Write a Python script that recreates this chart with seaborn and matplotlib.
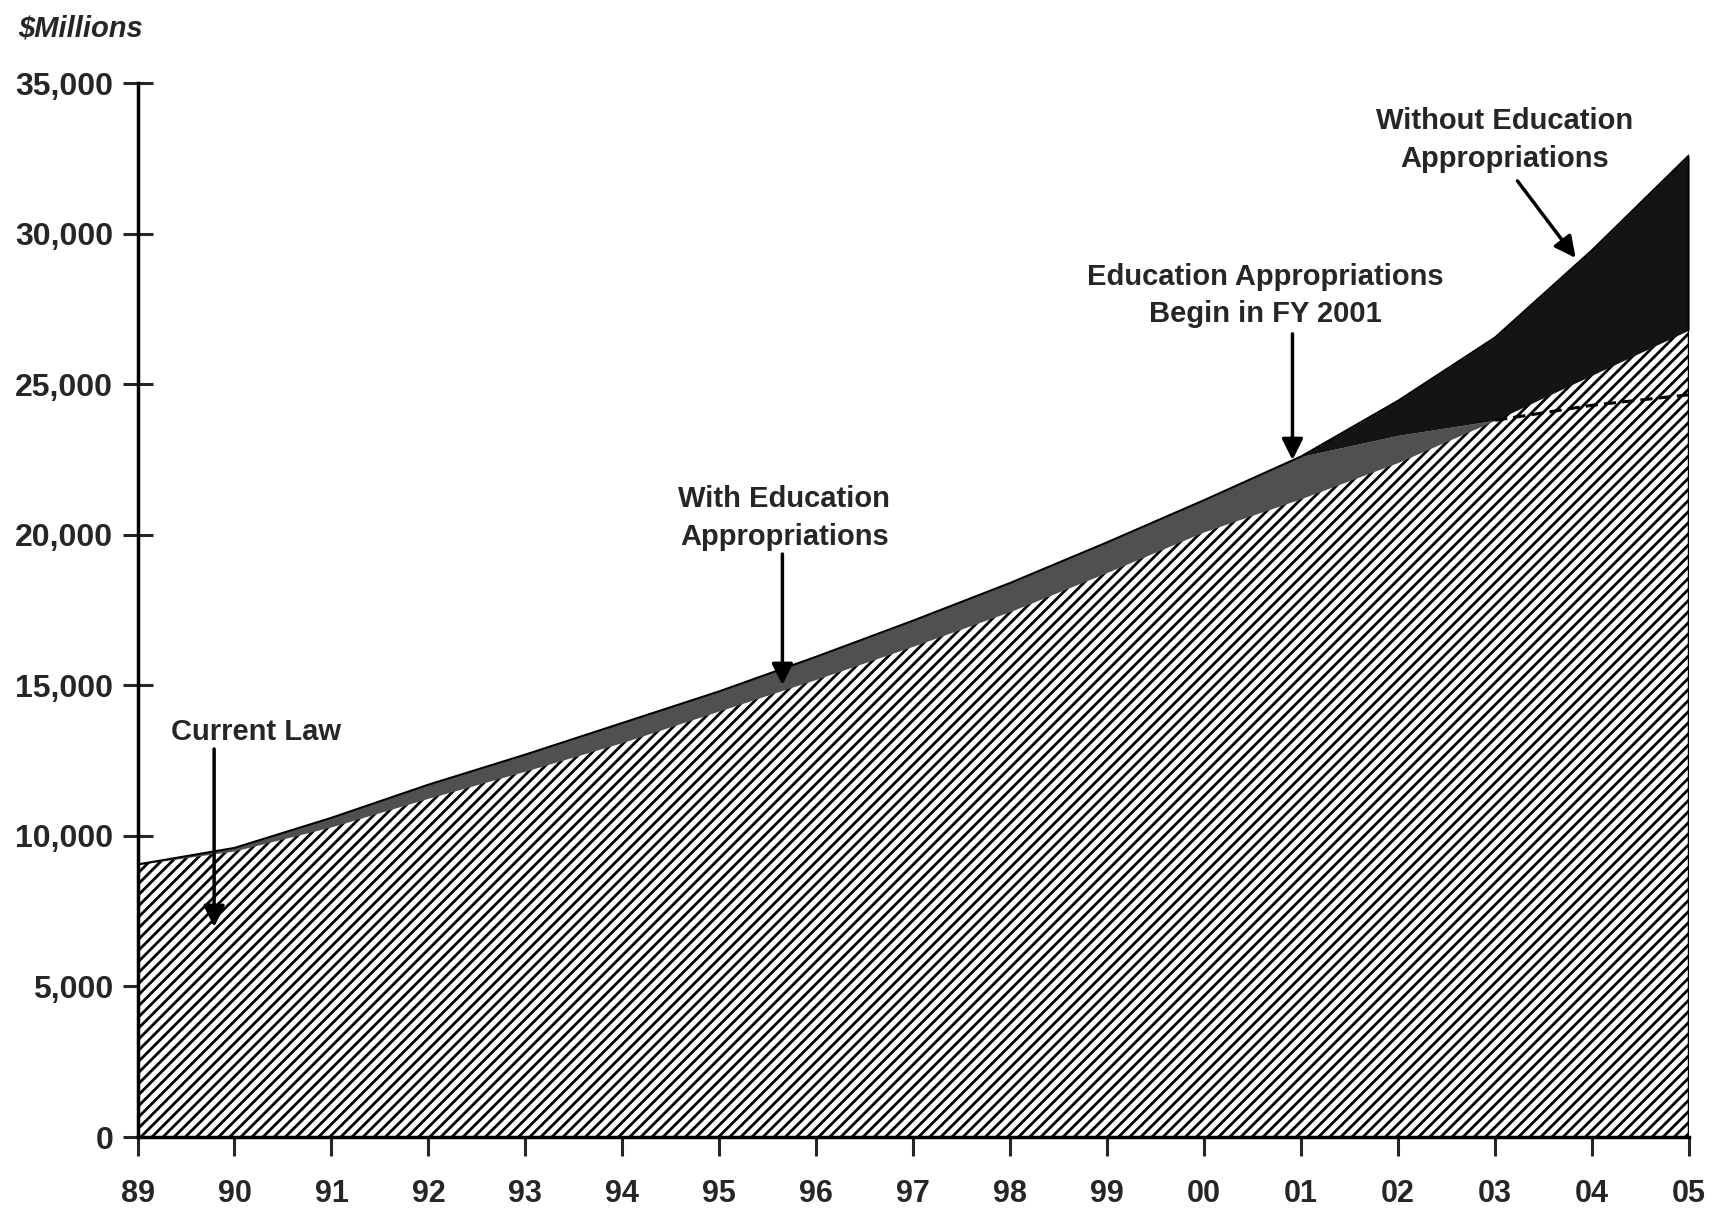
import matplotlib
matplotlib.use("Agg")
import matplotlib.pyplot as plt
import seaborn as sns

# data ($ millions), fiscal years 1989-2005
years = [1989, 1990, 1991, 1992, 1993, 1994, 1995, 1996, 1997, 1998, 1999,
         2000, 2001, 2002, 2003, 2004, 2005]
current_law = [9050, 9500, 10300, 11250, 12150, 13100, 14150, 15200, 16300,
               17450, 18750, 20100, 21200, 22400, 23800, 25300, 26800]
with_edu = [9050, 9600, 10600, 11700, 12700, 13750, 14800, 15950, 17150,
            18400, 19750, 21150, 22600, 23300, 23800, 25300, 26800]
without_edu = [9050, 9600, 10600, 11700, 12700, 13750, 14800, 15950, 17150,
               18400, 19750, 21150, 22600, 24450, 26550, 29450, 32600]
dash_years = [2003, 2004, 2005]
dash_vals = [23800, 24300, 24650]

y_ticks = [0, 5000, 10000, 15000, 20000, 25000, 30000, 35000]
x_labels = [str(y)[2:] for y in years]

sns.set_theme(style="ticks")
plt.rcParams["font.family"] = ["Liberation Sans", "DejaVu Sans"]
plt.rcParams["hatch.color"] = "black"
plt.rcParams["hatch.linewidth"] = 2.0

fig = plt.figure(figsize=(17.19, 12.30), dpi=100)
ax = fig.add_axes([0.0800, 0.0756, 0.9026, 0.8569])

# stacked areas
ax.fill_between(years, 0, current_law, facecolor="white", edgecolor="black",
                hatch="///", linewidth=0)
ax.fill_between(years, current_law, with_edu, color="#505050", linewidth=0)
ax.fill_between(years, with_edu, without_edu, color="#141414", linewidth=0)
sns.lineplot(x=years, y=without_edu, color="black", linewidth=1.5, ax=ax)
sns.lineplot(x=dash_years, y=dash_vals, color="black", linewidth=2.2,
             linestyle=(0, (4, 2)), ax=ax)
ax.vlines(years[-1], 0, without_edu[-1], color="black", linewidth=2.5)

ax.set_xlim(years[0], years[-1])
ax.set_ylim(0, 35000)
ax.set_xticks(years)
ax.set_xticklabels(x_labels)
ax.set_yticks(y_ticks)
ax.set_yticklabels([f"{v:,}" for v in y_ticks])
ax.tick_params(axis="y", direction="inout", length=21, width=2.2, pad=7,
               labelsize=23)
ax.tick_params(axis="x", direction="out", length=14, width=2.2, pad=16,
               labelsize=22)
for lab in ax.get_xticklabels() + ax.get_yticklabels():
    lab.set_fontweight("bold")

for s in ["top", "right"]:
    ax.spines[s].set_visible(False)
for s in ["left", "bottom"]:
    ax.spines[s].set_linewidth(2.5)
    ax.spines[s].set_color("black")
ax.set_xlabel("")
ax.set_ylabel("")

fig.text(0.0105, 0.977, "$Millions", fontsize=21, fontweight="bold",
         fontstyle="italic", va="center", ha="left")

arrow = dict(arrowstyle="-|>", color="black", lw=2.5, mutation_scale=32,
             shrinkA=0, shrinkB=0)
txt = dict(fontsize=21, fontweight="bold", ha="center", va="bottom",
           linespacing=1.45)

ax.annotate("", xy=(1989.79, 6975), xytext=(1989.79, 12885), arrowprops=arrow)
ax.text(1990.22, 13000, "Current Law", **txt)

ax.annotate("", xy=(1995.65, 15010), xytext=(1995.65, 19360), arrowprops=arrow)
ax.text(1995.67, 19450, "With Education\nAppropriations", **txt)

ax.annotate("", xy=(2000.91, 22480), xytext=(2000.91, 26670), arrowprops=arrow)
ax.text(2000.63, 26850, "Education Appropriations\nBegin in FY 2001", **txt)

ax.annotate("", xy=(2003.83, 29190), xytext=(2003.23, 31750), arrowprops=arrow)
ax.text(2003.1, 32000, "Without Education\nAppropriations", **txt)

fig.savefig("out.png", dpi=100)
